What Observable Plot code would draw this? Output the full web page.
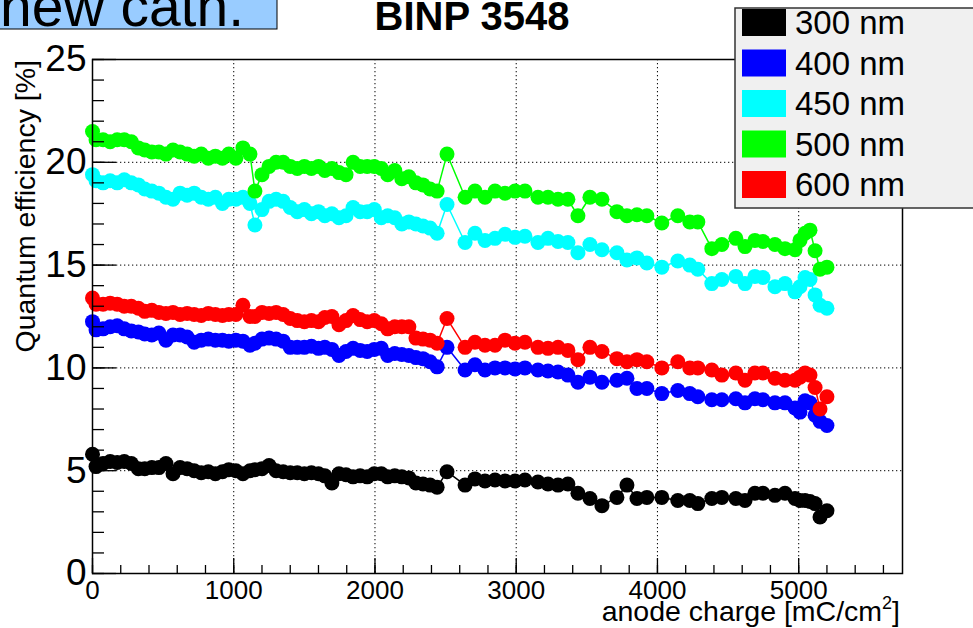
<!DOCTYPE html>
<html><head><meta charset="utf-8">
<script src="https://cdn.jsdelivr.net/npm/d3@7"></script>
<script src="https://cdn.jsdelivr.net/npm/@observablehq/plot@0.6"></script>
<style>
body{margin:0;background:#fff;overflow:hidden;font-family:"Liberation Sans",Arial,sans-serif}
#wrap{position:relative;width:973px;height:628px;overflow:hidden}
</style></head>
<body><div id="wrap"></div>
<script>
// anode charge [mC/cm^2] (shared by all wavelengths)
const charge = [0,25,75,125,175,225,275,325,370,420,
 470,520,570,620,670,720,770,820,870,920,
 965,1015,1065,1115,1150,1200,1250,1300,1350,1400,
 1450,1500,1550,1600,1645,1695,1745,1795,1845,1895,
 1945,1995,2045,2090,2140,2190,2240,2290,2340,2390,
 2440,2510,2638,2708,2779,2850,2921,2992,3062,3154,
 3225,3296,3366,3437,3522,3607,3713,3784,3855,3925,
 4031,4144,4229,4286,4385,4456,4555,4620,4690,4747,
 4832,4903,4974,5009,5045,5080,5116,5151,5200];

const qe300 = [5.8,5.2,5.35,5.45,5.4,5.45,5.35,5.1,5.1,5.15,
 5.15,5.35,4.85,5.15,5.1,5.0,4.9,4.95,4.85,4.95,
 5.05,5.0,4.85,5.0,5.05,5.1,5.25,5.0,4.95,4.9,
 4.9,4.85,4.9,4.85,4.75,4.4,4.85,4.8,4.7,4.75,
 4.7,4.85,4.85,4.7,4.75,4.7,4.65,4.4,4.35,4.3,
 4.2,4.95,4.3,4.6,4.5,4.55,4.5,4.5,4.55,4.45,
 4.35,4.3,4.35,3.9,3.65,3.3,3.7,4.3,3.65,3.7,
 3.7,3.55,3.55,3.4,3.65,3.7,3.65,3.55,3.9,3.9,
 3.8,3.9,3.65,3.55,3.55,3.5,3.4,2.75,3.05];

const qe400 = [12.25,11.85,11.9,12.0,12.05,11.9,11.8,11.75,11.65,11.6,
 11.7,11.35,11.6,11.6,11.5,11.25,11.35,11.4,11.35,11.35,
 11.3,11.35,11.3,11.1,11.2,11.4,11.45,11.4,11.3,11.0,
 11.0,11.0,11.05,10.95,11.0,10.9,10.6,10.8,10.95,10.85,
 10.8,10.9,10.95,10.6,10.7,10.65,10.6,10.5,10.45,10.3,
 10.05,11.0,9.9,10.15,9.9,10.0,10.0,9.95,10.0,9.9,
 9.85,9.8,9.65,9.3,9.55,9.3,9.4,9.5,9.0,9.0,
 8.75,8.9,8.75,8.6,8.45,8.45,8.5,8.3,8.5,8.45,
 8.3,8.3,8.05,7.85,8.4,8.3,7.7,7.4,7.2];

const qe450 = [19.4,19.1,19.0,19.1,19.0,19.15,19.0,18.9,18.7,18.6,
 18.5,18.3,18.2,18.5,18.4,18.5,18.3,18.2,18.3,18.0,
 18.2,18.2,18.3,18.0,16.95,17.7,18.1,18.2,18.1,17.8,
 17.6,17.7,17.5,17.6,17.4,17.5,17.3,17.4,17.8,17.6,
 17.6,17.7,17.3,17.4,17.3,17.0,17.1,17.0,16.9,16.8,
 16.55,17.95,16.1,16.55,16.2,16.3,16.5,16.35,16.4,16.1,
 16.3,16.15,16.1,15.6,16.0,15.75,15.6,15.25,15.35,15.1,
 14.9,15.2,15.0,14.8,14.1,14.3,14.45,14.1,14.45,14.4,
 13.95,14.1,13.7,13.95,14.4,14.3,13.55,13.05,12.9];

const qe500 = [21.5,21.1,21.1,21.0,21.1,21.1,21.0,20.7,20.6,20.5,
 20.5,20.4,20.6,20.5,20.4,20.3,20.4,20.2,20.3,20.2,
 20.4,20.2,20.7,20.4,18.6,19.4,19.8,20.0,20.0,19.8,
 19.7,19.8,19.7,19.8,19.6,19.7,19.5,19.4,20.0,19.8,
 19.8,19.8,19.7,19.4,19.6,19.2,19.3,19.0,18.9,18.7,
 18.6,20.4,18.3,18.6,18.3,18.6,18.5,18.6,18.6,18.3,
 18.3,18.2,18.2,17.4,18.3,18.2,17.6,17.4,17.45,17.4,
 17.05,17.4,17.1,17.1,15.8,16.0,16.3,15.9,16.2,16.15,
 16.0,15.8,15.75,16.2,16.55,16.7,15.7,14.8,14.9];

const qe600 = [13.4,13.1,13.1,13.15,13.1,13.0,13.0,12.9,12.75,12.8,
 12.7,12.65,12.7,12.6,12.65,12.6,12.55,12.65,12.6,12.55,
 12.6,12.6,13.05,12.5,12.5,12.7,12.65,12.7,12.6,12.4,
 12.3,12.25,12.3,12.25,12.45,12.5,12.1,12.3,12.55,12.35,
 12.25,12.3,12.15,11.9,12.0,12.0,12.0,11.45,11.4,11.35,
 11.2,12.4,11.0,11.25,11.1,11.1,11.35,11.2,11.25,11.0,
 10.95,11.0,10.85,10.4,11.0,10.8,10.45,10.3,10.4,10.3,
 10.0,10.3,10.0,10.0,9.9,9.65,9.75,9.4,9.75,9.75,
 9.5,9.4,9.4,9.55,9.75,9.65,9.05,8.0,8.6];

const seriesNames = ["300 nm","400 nm","450 nm","500 nm","600 nm"];
const seriesColors = ["#000000","#0000ff","#00ffff","#00ff00","#ff0000"];
const seriesValues = [qe300, qe400, qe450, qe500, qe600];

const xMajor = [0,1000,2000,3000,4000,5000];
const xMinor = d3.range(0, 5700, 200);
const yMajor = [0,5,10,15,20,25];
const yMinor = d3.range(0, 26, 1);
const xGrid = [1000,2000,3000,4000,5000];
const yGrid = [5,10,15,20];

const W = 973, H = 628, mL = 92, mR = 71, mT = 59, mB = 55;
const xMax = 5735;
const xPerPx = xMax / (W - mL - mR);
const yPerPx = 25 / (H - mT - mB);

const marks = [
  Plot.ruleX(xGrid, {stroke: "#000", strokeWidth: 1, strokeDasharray: "1.3,2.7"}),
  Plot.ruleY(yGrid, {stroke: "#000", strokeWidth: 1, strokeDasharray: "1.3,2.7"})
];
seriesValues.forEach((vals, i) => {
  const data = charge.map((c, j) => ({x: c, y: vals[j]}));
  marks.push(Plot.line(data, {x: "x", y: "y", stroke: seriesColors[i], strokeWidth: 1.5}));
  marks.push(Plot.dot(data, {x: "x", y: "y", r: 7.5, fill: seriesColors[i], stroke: "none"}));
});
marks.push(
  Plot.frame({stroke: "#000", strokeWidth: 1.5}),
  Plot.ruleY(yMajor, {x1: 0, x2: 24 * xPerPx, stroke: "#000", strokeWidth: 1.3}),
  Plot.ruleY(yMinor, {x1: 0, x2: 12 * xPerPx, stroke: "#000", strokeWidth: 1.3}),
  Plot.ruleX(xMajor, {y1: 0, y2: 15 * yPerPx, stroke: "#000", strokeWidth: 1.3}),
  Plot.ruleX(xMinor, {y1: 0, y2: 8 * yPerPx, stroke: "#000", strokeWidth: 1.3}),
  Plot.axisX({ticks: xMajor, tickSize: 0, tickPadding: 7, fontSize: 26, tickFormat: d => String(d), label: null}),
  Plot.axisY({ticks: yMajor, tickSize: 0, tickPadding: 6, fontSize: 37, tickFormat: d => String(d), label: null})
);

const svg = Plot.plot({
  width: W, height: H,
  marginLeft: mL, marginRight: mR, marginTop: mT, marginBottom: mB,
  style: {fontFamily: "'Liberation Sans', Arial, sans-serif", background: "#fff", color: "#000"},
  x: {domain: [0, xMax]},
  y: {domain: [0, 25]},
  marks
});

const s = d3.select(svg);
// "new cath." label
s.append("rect").attr("x", -2).attr("y", -2).attr("width", 279).attr("height", 31)
  .attr("fill", "#99ccff").attr("stroke", "#000").attr("stroke-width", 1);
s.append("text").attr("x", 0).attr("y", 26).attr("font-size", 57).attr("text-anchor", "start")
  .attr("fill", "#000").text("new cath.");
// title
s.append("text").attr("x", 472).attr("y", 30).attr("text-anchor", "middle")
  .attr("font-size", 40).attr("font-weight", "bold").attr("fill", "#000").text("BINP 3548");
// y title
s.append("text").attr("transform", "translate(35,60) rotate(-90)").attr("text-anchor", "end")
  .attr("font-size", 28.5).attr("fill", "#000").text("Quantum efficiency [%]");
// x title
const xt = s.append("text").attr("x", 900).attr("y", 621).attr("text-anchor", "end")
  .attr("font-size", 28.5).attr("fill", "#000");
xt.append("tspan").text("anode charge [mC/cm");
xt.append("tspan").attr("font-size", 18).attr("dy", -12).text("2");
xt.append("tspan").attr("dy", 12).text("]");
// legend
const lg = s.append("g");
lg.append("rect").attr("x", 735).attr("y", 8).attr("width", 260).attr("height", 200)
  .attr("fill", "#f0f0f0").attr("stroke", "#333").attr("stroke-width", 1.5);
seriesNames.forEach((name, i) => {
  lg.append("rect").attr("x", 742).attr("y", 9 + 40.5 * i).attr("width", 44).attr("height", 27)
    .attr("fill", seriesColors[i]);
  lg.append("text").attr("x", 795).attr("y", 34 + 40.5 * i).attr("font-size", 33)
    .attr("text-anchor", "start").attr("fill", "#000").text(name);
});

document.getElementById("wrap").appendChild(svg);
</script>
</body></html>
